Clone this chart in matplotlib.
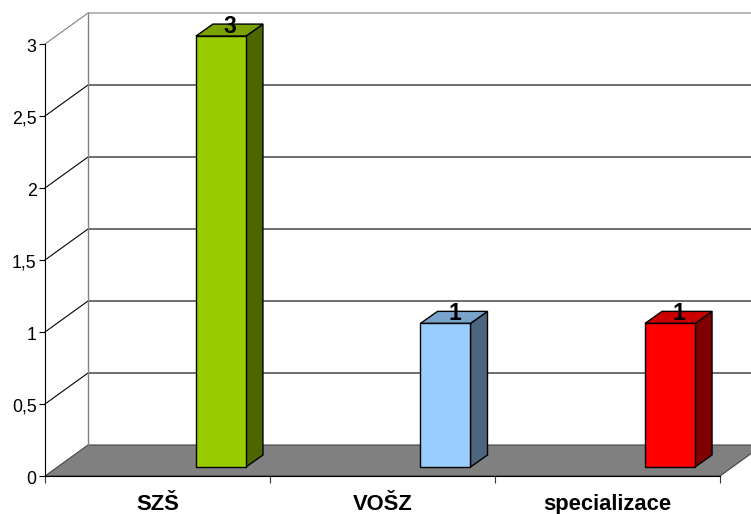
import matplotlib
matplotlib.use('Agg')
import matplotlib.pyplot as plt
from matplotlib.patches import Polygon
from matplotlib.transforms import ScaledTranslation

categories = ['SZŠ', 'VOŠZ', 'specializace']
values = [3, 1, 1]
ytick_values = [0, 0.5, 1, 1.5, 2, 2.5, 3]
ytick_labels = ['0', '0,5', '1', '1,5', '2', '2,5', '3']
front_colors = ['#99CC00', '#99CCFF', '#FF0000']
top_colors = ['#7AA300', '#7AA3CC', '#CC0000']
side_colors = ['#4D6600', '#4D6680', '#800000']

plt.rcParams['font.family'] = ['Liberation Sans', 'DejaVu Sans']

# one x unit is one category slot, one y unit is one value unit
px_x = 225.0
px_y = 144.0
wall_dx = 43 / px_x
wall_dy = 31 / px_y
bar_dx = 17 / px_x
bar_dy = 12 / px_y
bar_w = 50 / px_x
bar_center = 0.782
bar_step = 0.998
bar_scale = 0.9975
bar_base = 9 / px_y

fig = plt.figure(figsize=(7.51, 5.14), dpi=100)
ax = fig.add_axes([0, 0, 1, 1])
ax.set_xlim(-45 / px_x, 706 / px_x)
ax.set_ylim(-38 / px_y, 476 / px_y)
ax.patch.set_visible(False)

# floor
n = len(categories)
floor = Polygon([(0, 0), (wall_dx, wall_dy), (n + wall_dx, wall_dy), (n, 0)],
                facecolor='#808080', edgecolor='#444444', lw=0.8, zorder=1)
ax.add_patch(floor)

# walls and gridlines
for v in ytick_values[1:]:
    col = '#808080' if v == 3 else 'black'
    ax.plot([0, wall_dx, n + wall_dx], [v, v + wall_dy, v + wall_dy], color=col, lw=0.8, zorder=1,
            solid_joinstyle='miter')
ax.plot([wall_dx, wall_dx], [wall_dy, 3 + wall_dy], color='#808080', lw=1, zorder=1)

# bars
for i, v in enumerate(values):
    x0 = i * bar_step + bar_center - bar_w / 2
    x1 = x0 + bar_w
    y0 = bar_base
    y1 = bar_base + v * bar_scale
    side = Polygon([(x1, y0), (x1 + bar_dx, y0 + bar_dy), (x1 + bar_dx, y1 + bar_dy), (x1, y1)],
                   facecolor=side_colors[i], edgecolor='black', lw=1, zorder=3)
    top = Polygon([(x0, y1), (x0 + bar_dx, y1 + bar_dy), (x1 + bar_dx, y1 + bar_dy), (x1, y1)],
                  facecolor=top_colors[i], edgecolor='black', lw=1, zorder=3)
    front = Polygon([(x0, y0), (x1, y0), (x1, y1), (x0, y1)],
                    facecolor=front_colors[i], edgecolor='black', lw=1, zorder=3)
    ax.add_patch(side)
    ax.add_patch(top)
    ax.add_patch(front)
    ax.annotate(str(v), (x0 + bar_w / 2 + bar_dx / 2, y1 + bar_dy), xytext=(0.5, -1.5),
                textcoords='offset points', ha='center', va='center',
                fontsize=16.5, fontweight='bold', color='black', zorder=4)

# axes
for s in ['top', 'right']:
    ax.spines[s].set_visible(False)
ax.spines['left'].set_position(('data', 0))
ax.spines['bottom'].set_position(('data', 0))
ax.spines['left'].set_bounds(0, 3)
ax.spines['bottom'].set_bounds(0, n)
ax.spines['left'].set_zorder(5)
ax.spines['bottom'].set_zorder(5)

ax.set_yticks(ytick_values)
ax.set_yticklabels(ytick_labels, fontsize=12.8)
ax.tick_params(axis='y', length=4.5, width=0.8, pad=1.5, direction='out')
nudge = ScaledTranslation(0, -1.5 / 100, fig.dpi_scale_trans)
for lab in ax.get_yticklabels():
    lab.set_transform(lab.get_transform() + nudge)

ax.set_xticks(range(n + 1))
ax.set_xticklabels([])
ax.set_xticks([i + 0.5 for i in range(n)], minor=True)
ax.set_xticklabels(categories, minor=True, fontsize=15.8, fontweight='bold')
ax.tick_params(axis='x', which='major', length=5, width=0.8, color='#333333', direction='out')
ax.tick_params(axis='x', which='minor', length=0, pad=13)

fig.savefig('out.png', dpi=100)
